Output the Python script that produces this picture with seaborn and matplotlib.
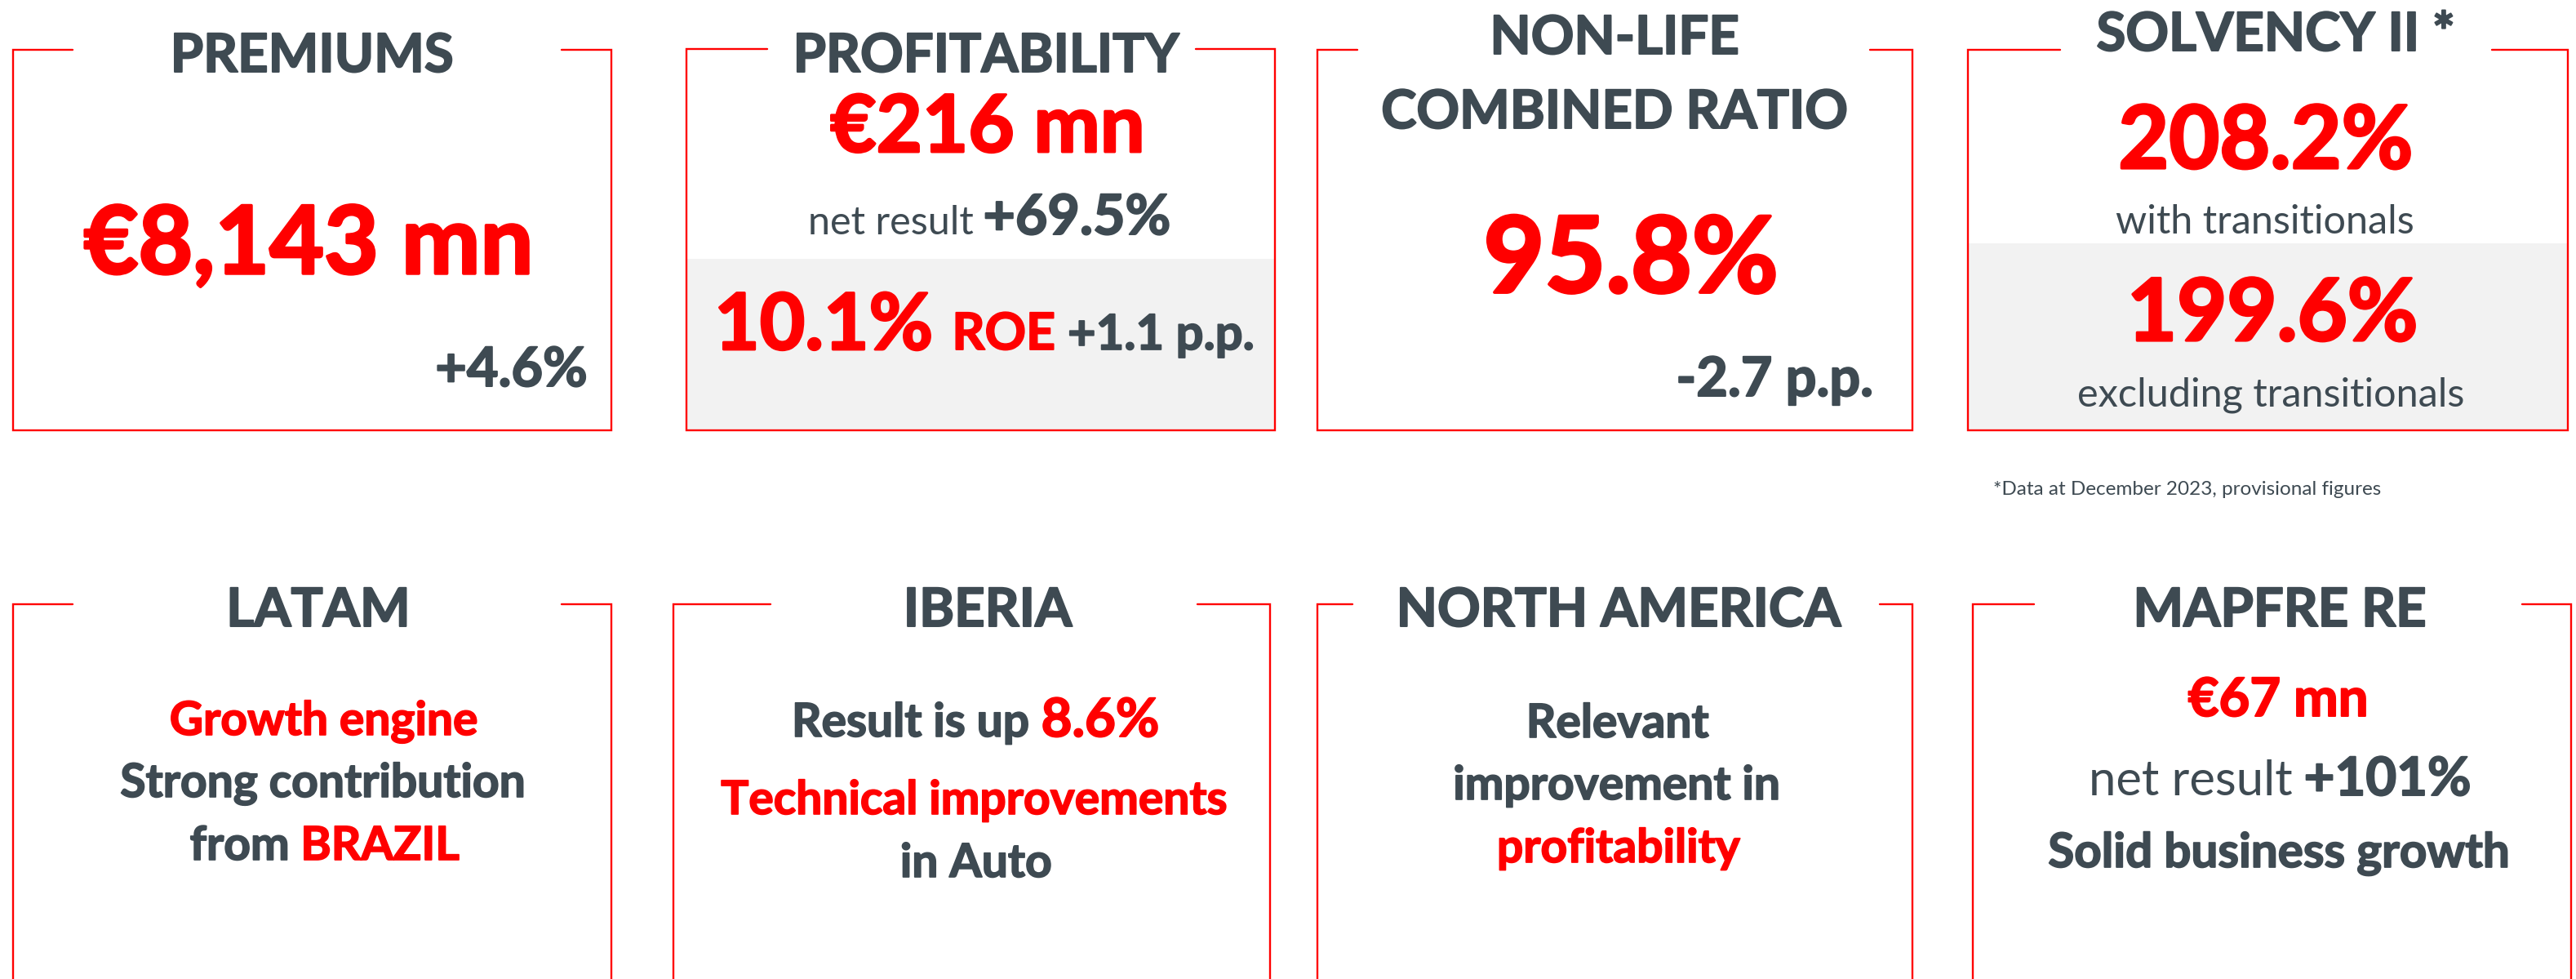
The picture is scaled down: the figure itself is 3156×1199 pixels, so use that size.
import matplotlib
matplotlib.use("Agg")
import matplotlib.pyplot as plt
import matplotlib.patheffects as pe
import seaborn as sns
from matplotlib.patches import Rectangle

sns.set_theme(style="white")
plt.rcParams['font.family'] = ['Lato', 'DejaVu Sans']

RED = "#FF0000"
GREY = "#3E4A52"
FILL = "#F2F2F2"

# ---- content of the slide
top_titles = ["PREMIUMS", "PROFITABILITY", "NON-LIFE\nCOMBINED RATIO", "SOLVENCY II *"]
bottom_titles = ["LATAM", "IBERIA", "NORTH AMERICA", "MAPFRE RE"]

premiums = "€8,143 mn"
premiums_growth = "+4.6%"
net_result = "€216 mn"
net_result_growth = "+69.5%"
roe = "10.1%"
roe_change = "+1.1 p.p."
combined_ratio = "95.8%"
combined_ratio_change = "-2.7 p.p."
solvency_with = "208.2%"
solvency_without = "199.6%"
footnote = "*Data at December 2023, provisional figures"

iberia_result = "8.6%"
re_net_result = "€67 mn"
re_growth = "+101%"

# ---- layout (pixels)
W, H = 3156, 1199
# left, right, top, bottom, end of left stub, start of right stub
top_frames = [(16, 749, 61, 527, 89, 688),
              (841, 1562, 60, 527, 940, 1465),
              (1614, 2343, 61, 527, 1663, 2291),
              (2411, 3146, 61, 527, 2524, 3053)]
bottom_frames = [(16, 749, 740, 1230, 89, 688),
                 (825, 1556, 740, 1230, 944, 1467),
                 (1614, 2343, 740, 1230, 1657, 2303),
                 (2417, 3150, 740, 1230, 2492, 3090)]

fig = plt.figure(figsize=(W / 100, H / 100), dpi=100)
ax = fig.add_axes([0, 0, 1, 1])
ax.set_xlim(0, W)
ax.set_ylim(H, 0)
ax.axis('off')
renderer = fig.canvas.get_renderer()


def draw_runs(x, y, runs, ha="center"):
    # runs: (text, size, weight, color) drawn side by side on one baseline
    arts, widths = [], []
    for txt, size, weight, color in runs:
        t = ax.text(0, y, txt, fontsize=size, fontweight=weight, color=color,
                    va="baseline", ha="left")
        if weight == 'bold':
            # Calibri bold is a bit heavier than Lato bold
            t.set_path_effects([pe.withStroke(linewidth=size * 0.03, foreground=color)])
        arts.append(t)
        widths.append(t.get_window_extent(renderer).width)
    gaps = [0] + [0.24 * runs[i][1] * 100 / 72 for i in range(len(runs) - 1)]
    total = sum(widths) + sum(gaps)
    if ha == "center":
        pos = x - total / 2
    elif ha == "right":
        pos = x - total
    else:
        pos = x
    for t, w, g in zip(arts, widths, gaps):
        pos += g
        t.set_x(pos)
        pos += w


# gray panels behind the second metric
ax.add_patch(Rectangle((841, 317), 1562 - 841, 527 - 317, color=FILL, lw=0, zorder=0))
ax.add_patch(Rectangle((2411, 298), 3146 - 2411, 527 - 298, color=FILL, lw=0, zorder=0))

# open-top frames
for l, r, t, b, gl, gr in top_frames + bottom_frames:
    ax.plot([gl, l, l, r, r, gr], [t, t, b, b, t, t], color=RED, lw=1.7,
            solid_joinstyle="miter", zorder=2)

# titles
top_centers = [382, 1208, 1978, 2788]
for cx, title in zip(top_centers, top_titles):
    lines = title.split("\n")
    if len(lines) == 1:
        draw_runs(cx, 88 if cx != 2788 else 62, [(lines[0], 47, 'bold', GREY)])
    else:
        draw_runs(cx, 66, [(lines[0], 47, 'bold', GREY)])
        draw_runs(cx, 157, [(lines[1], 47, 'bold', GREY)])

bottom_centers = [390, 1210, 1983, 2793]
for cx, title in zip(bottom_centers, bottom_titles):
    draw_runs(cx, 767, [(title, 47, 'bold', GREY)])

# PREMIUMS
draw_runs(378, 335, [(premiums, 83, 'bold', RED)])
draw_runs(720, 473, [(premiums_growth, 48, 'bold', GREY)], ha="right")

# PROFITABILITY
draw_runs(1210, 186, [(net_result, 70, 'bold', RED)])
draw_runs(1212, 287, [("net result", 35, 'normal', GREY),
                      (net_result_growth, 49, 'bold', GREY)])
draw_runs(1206, 428, [(roe, 69, 'bold', RED), ("ROE", 45, 'bold', RED),
                      (roe_change, 43, 'bold', GREY)])

# COMBINED RATIO
draw_runs(1998, 358, [(combined_ratio, 93, 'bold', RED)])
draw_runs(2295, 485, [(combined_ratio_change, 48, 'bold', GREY)], ha="right")

# SOLVENCY
draw_runs(2776, 206, [(solvency_with, 77, 'bold', RED)])
draw_runs(2775, 286, [("with transitionals", 35, 'normal', GREY)])
draw_runs(2784, 417, [(solvency_without, 76, 'bold', RED)])
draw_runs(2782, 498, [("excluding transitionals", 35, 'normal', GREY)])
draw_runs(2442, 606, [(footnote, 17.5, 'normal', GREY)], ha="left")

# LATAM
draw_runs(397, 900, [("Growth engine", 41, 'bold', RED)])
draw_runs(396, 976, [("Strong contribution", 41, 'bold', GREY)])
draw_runs(398, 1053, [("from", 41, 'bold', GREY), ("BRAZIL", 41, 'bold', RED)])

# IBERIA
draw_runs(1195, 902, [("Result is up", 41, 'bold', GREY), (iberia_result, 47, 'bold', RED)])
draw_runs(1194, 997, [("Technical improvements", 41, 'bold', RED)])
draw_runs(1196, 1074, [("in Auto", 41, 'bold', GREY)])

# NORTH AMERICA
draw_runs(1982, 903, [("Relevant", 41, 'bold', GREY)])
draw_runs(1981, 979, [("improvement in", 41, 'bold', GREY)])
draw_runs(1983, 1056, [("profitability", 41, 'bold', RED)])

# MAPFRE RE
draw_runs(2791, 877, [(re_net_result, 47, 'bold', RED)])
draw_runs(2793, 974, [("net result", 43, 'normal', GREY), (re_growth, 47, 'bold', GREY)])
draw_runs(2792, 1062, [("Solid business growth", 42, 'bold', GREY)])

fig.savefig("out.png", dpi=100, facecolor="white")
